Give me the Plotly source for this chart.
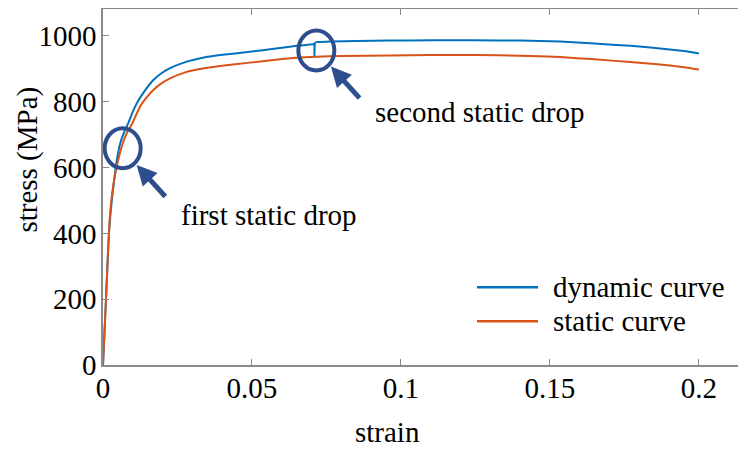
import plotly.graph_objects as go

# ---- data ----
dyn_strain = [0, 0.001, 0.002, 0.003, 0.0038, 0.0046, 0.0058, 0.0072, 0.0085, 0.0100,
              0.0113, 0.014, 0.0169, 0.0195, 0.0225, 0.0281, 0.0335, 0.0393, 0.0493,
              0.058, 0.065, 0.0705, 0.0709, 0.07095, 0.0711, 0.0714, 0.0762, 0.085,
              0.0963, 0.11, 0.125, 0.14, 0.1534, 0.165, 0.177, 0.187, 0.195, 0.2]
dyn_stress = [0, 200, 400, 505, 565, 620, 675, 710, 735, 770,
              795, 833, 866, 886, 902, 922, 934, 942, 952,
              962, 970, 975, 976, 940, 976, 981, 983, 985,
              986, 987, 987, 986, 983, 977, 970, 962, 954, 947]

sta_strain = [0, 0.001, 0.0023, 0.0035, 0.0049, 0.0065, 0.008, 0.0096, 0.0124, 0.0145,
              0.0169, 0.0195, 0.0225, 0.0281, 0.0335, 0.0393, 0.0493, 0.058, 0.065,
              0.0717, 0.08, 0.0963, 0.11, 0.125, 0.14, 0.1534, 0.165, 0.177, 0.187,
              0.195, 0.2]
sta_stress = [0, 200, 450, 550, 615, 670, 705, 730, 785, 812,
              836, 855, 871, 891, 901, 909, 919, 928, 934,
              937, 939, 941, 942, 942, 940, 936, 929, 921, 913,
              905, 898]

x_ticks = [0, 0.05, 0.1, 0.15, 0.2]
x_ticklabels = ["0", "0.05", "0.1", "0.15", "0.2"]
y_ticks = [0, 200, 400, 600, 800, 1000]
y_ticklabels = ["0", "200", "400", "600", "800", "1000"]

series_names = ["dynamic curve", "static curve"]
series_colors = ["#0072BD", "#D95319"]

FONT = "Liberation Serif"
FS = 29
MARK = "#2E4D8D"
AXC = "#8a8a8a"

fig = go.Figure()
fig.add_trace(go.Scatter(x=dyn_strain, y=dyn_stress, mode="lines", name=series_names[0],
                         line=dict(color=series_colors[0], width=2, shape="spline", smoothing=0.5),
                         showlegend=False))
fig.add_trace(go.Scatter(x=sta_strain, y=sta_stress, mode="lines", name=series_names[1],
                         line=dict(color=series_colors[1], width=2, shape="spline", smoothing=0.5),
                         showlegend=False))

shapes = []
annotations = []

# manual legend (long line samples as in the reference)
leg_y = [0.2185, 0.1232]
for name, col, yy in zip(series_names, series_colors, leg_y):
    shapes.append(dict(type="line", xref="paper", yref="paper", x0=0.5816, x1=0.6765,
                       y0=yy, y1=yy, line=dict(color=col, width=2.5)))
    annotations.append(dict(xref="paper", yref="paper", x=0.6967, y=yy, text=name,
                            showarrow=False, xanchor="left", yanchor="middle",
                            font=dict(family=FONT, size=FS, color="black")))

# circles marking the drops
for cx, cy in [(0.0066, 659), (0.0716, 956)]:
    shapes.append(dict(type="circle", xref="x", yref="y",
                       xsizemode="pixel", ysizemode="pixel",
                       xanchor=cx, yanchor=cy, x0=-18, x1=18, y0=-20, y1=20,
                       line=dict(color=MARK, width=4)))

# arrows
for tx, ty in [(0.0113, 608), (0.0765, 907)]:
    annotations.append(dict(x=tx, y=ty, xref="x", yref="y", text="", showarrow=True,
                            ax=30, ay=33, axref="pixel", ayref="pixel",
                            arrowhead=2, arrowsize=0.8, arrowwidth=5,
                            arrowcolor=MARK, standoff=0))

# text labels
annotations.append(dict(xref="paper", yref="paper", x=0.42, y=0.712,
                        text="second static drop", showarrow=False,
                        xanchor="left", yanchor="middle",
                        font=dict(family=FONT, size=FS, color="black")))
annotations.append(dict(xref="paper", yref="paper", x=0.118, y=0.420,
                        text="first static drop", showarrow=False,
                        xanchor="left", yanchor="middle",
                        font=dict(family=FONT, size=FS, color="black")))

# axis titles
annotations.append(dict(xref="paper", yref="paper", x=0.443, y=-0.188,
                        text="strain", showarrow=False,
                        xanchor="center", yanchor="middle",
                        font=dict(family=FONT, size=FS, color="black")))
annotations.append(dict(xref="paper", yref="paper", x=-0.1166, y=0.577,
                        text="stress (MPa)", showarrow=False, textangle=-90,
                        xanchor="center", yanchor="middle",
                        font=dict(family=FONT, size=FS, color="black")))

# page has an 8px body margin: size the figure so the plot lands where the reference has it
fig.update_layout(
    width=738, height=441,
    margin=dict(l=95, r=0, t=1, b=84, autoexpand=False),
    paper_bgcolor="white", plot_bgcolor="white",
    font=dict(family=FONT, size=FS, color="black"),
    shapes=shapes, annotations=annotations,
    showlegend=False,
)
fig.update_xaxes(range=[0, 0.2158], tickvals=x_ticks, ticktext=x_ticklabels,
                 showgrid=False, zeroline=False, showline=True, linecolor=AXC, linewidth=1.5,
                 mirror="ticks", ticks="inside", ticklen=6, tickcolor=AXC,
                 ticklabelstandoff=-4, automargin=False,
                 tickfont=dict(family=FONT, size=FS, color="black"))
fig.update_yaxes(range=[0, 1082], tickvals=y_ticks, ticktext=y_ticklabels,
                 showgrid=False, zeroline=False, showline=True, linecolor=AXC, linewidth=1.5,
                 mirror=False, ticks="inside", ticklen=6, tickcolor=AXC,
                 ticklabelstandoff=-1, automargin=False,
                 tickfont=dict(family=FONT, size=FS, color="black"))

fig.write_html("out.html")
